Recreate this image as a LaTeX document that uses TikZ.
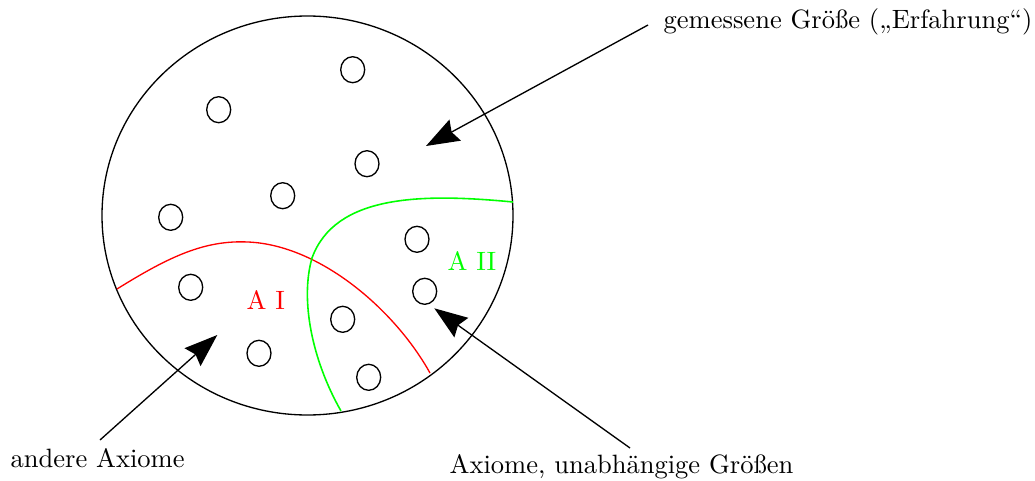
\documentclass[tikz,border=0pt]{standalone}
\usetikzlibrary{arrows.meta}
\definecolor{aired}{RGB}{255,0,0}
\definecolor{aigreen}{RGB}{0,255,0}
\begin{document}
\begin{tikzpicture}[x=0.377pt,y=-0.377pt,
  line width=0.5pt,
  dot/.style={draw,line width=0.5pt},
  bigarrow/.style={draw,line width=0.5pt,-{Stealth[length=12.5pt,width=9pt,inset=1.5pt]}},
  lbl/.style={inner sep=0pt,anchor=base west}]
\useasboundingbox (0,0) rectangle (1035,481);
% big circle
\draw (307.5,215.5) ellipse [x radius=205.5, y radius=199.5];
% small circles
\foreach \p in {(218.7,109.7),(352.7,69.7),(367,163.7),(282.7,195.7),(170.7,217.3),(417,239.3),(190.7,287.3),(424.7,291.3),(342.7,319.3),(259,353.3),(368.7,377.3)}
  \draw \p ellipse [x radius=12, y radius=13];
% red boundary
\draw[aired] (117,289) .. controls (170,256) and (205,240) .. (248,242)
  .. controls (320,245) and (395,310) .. (430,373);
% green boundary
\draw[aigreen,line width=0.6pt] (513,202) .. controls (420,193) and (335,195) .. (312,258)
  .. controls (300,300) and (312,360) .. (341,411);
% region labels
\node[lbl,text=aired] (a1) at (246,309) {A I};
\node[lbl,text=aigreen] (a2) at (447,270) {A II};
% outer labels
\node[lbl] (lg) at (663,28) {gemessene Größe („Erfahrung“)};
\node[lbl] (la) at (10,467) {andere Axiome};
\node[lbl] (lu) at (449,473) {Axiome, unabhängige Größen};
% arrow coordinates
\coordinate (s1) at (648,25);
\coordinate (t1) at (426,146);
\coordinate (s2) at (100,440);
\coordinate (t2) at (217.3,335);
\coordinate (s3) at (630,448);
\coordinate (t3) at (434.3,308.3);
\draw[bigarrow] (s1) -- (t1);
\draw[bigarrow] (s2) -- (t2);
\draw[bigarrow] (s3) -- (t3);
\end{tikzpicture}
\end{document}
